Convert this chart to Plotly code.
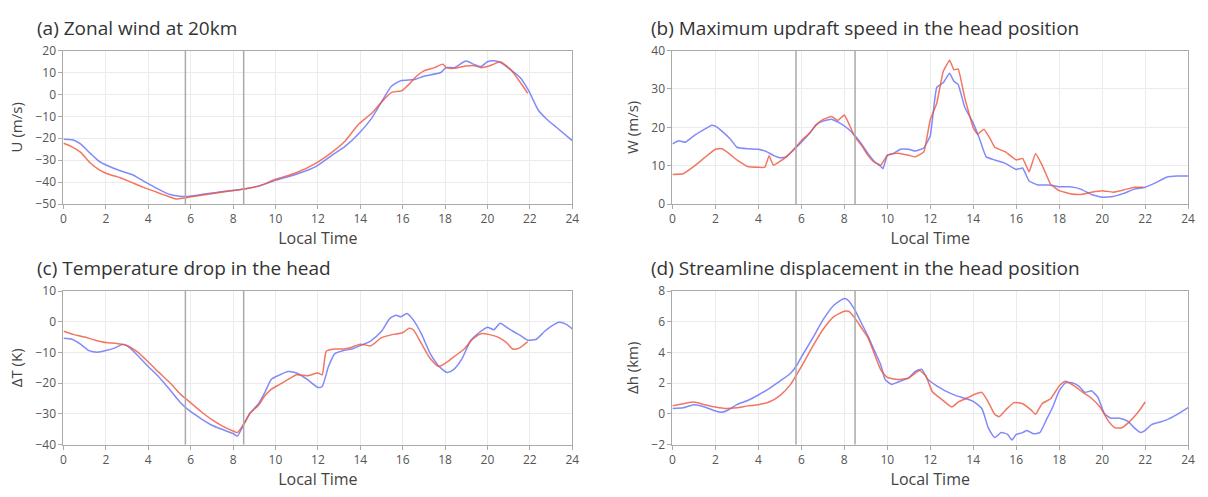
import plotly.graph_objects as go

# ---------------- data ----------------
a_blue_t = [0, 0.42, 0.8, 1.28, 1.67, 2.06, 2.68, 3.23, 3.78, 4.4, 5.02, 5.49, 5.96, 6.74, 7.52, 8.53, 9.24, 10.0, 10.95, 11.9, 12.67, 13.3, 13.9, 14.54, 15.0, 15.48, 15.94, 16.57, 17.0, 17.8, 18.05, 18.44, 18.98, 19.37, 19.7, 20.0, 20.3, 20.6, 21.1, 21.56, 21.95, 22.4, 22.8, 23.28, 24.0]
a_blue_v = [-20.4, -20.7, -22.6, -27.0, -30.4, -32.4, -34.8, -36.5, -39.5, -42.8, -45.6, -46.4, -46.4, -45.3, -44.3, -43.1, -41.7, -39.2, -36.5, -32.9, -27.7, -23.6, -18.2, -10.8, -3.5, 3.8, 6.3, 6.8, 8.3, 10.0, 12.2, 12.2, 15.2, 13.7, 12.7, 14.9, 15.3, 14.6, 11.2, 7.5, 1.6, -7.2, -11.3, -15.2, -21.1]
a_red_t = [0, 0.42, 0.8, 1.28, 1.67, 2.06, 2.68, 3.23, 3.78, 4.4, 5.02, 5.3, 5.49, 5.96, 6.74, 7.52, 8.53, 9.24, 10.0, 10.95, 11.9, 12.67, 13.3, 13.9, 14.54, 15.0, 15.48, 15.94, 16.3, 16.57, 17.0, 17.5, 17.9, 18.05, 18.44, 18.98, 19.37, 19.7, 20.0, 20.3, 20.6, 21.1, 21.56, 21.9]
a_red_v = [-22.3, -24.0, -26.3, -31.4, -34.3, -36.2, -38.0, -40.2, -42.4, -44.6, -46.8, -47.7, -47.5, -46.8, -45.6, -44.5, -43.1, -41.7, -38.7, -35.8, -31.4, -26.3, -21.1, -13.8, -8.6, -3.5, 0.9, 1.6, 4.6, 7.5, 10.7, 12.2, 13.8, 12.2, 11.9, 12.9, 13.1, 12.2, 12.7, 13.8, 14.9, 11.2, 5.3, 0.5]

b_blue_t = [0, 0.3, 0.6, 1.0, 1.5, 1.8, 2.0, 2.3, 2.7, 3.0, 3.5, 4.0, 4.4, 4.7, 5.0, 5.3, 5.7, 6.0, 6.4, 6.7, 7.0, 7.4, 7.8, 8.2, 8.5, 8.8, 9.1, 9.4, 9.7, 9.8, 10.0, 10.3, 10.6, 11.0, 11.3, 11.7, 12.0, 12.3, 12.6, 12.9, 13.1, 13.3, 13.6, 14.0, 14.3, 14.6, 15.0, 15.5, 16.0, 16.3, 16.6, 17.0, 17.5, 18.0, 18.5, 19.0, 19.5, 20.0, 20.5, 21.0, 21.5, 22.0, 22.5, 23.0, 23.5, 24.0]
b_blue_v = [15.7, 16.5, 16.1, 17.8, 19.5, 20.5, 20.3, 19.0, 16.9, 14.8, 14.4, 14.3, 13.6, 12.7, 12.1, 12.3, 14.4, 16.1, 18.6, 20.7, 21.6, 22.1, 21.1, 19.5, 17.8, 15.7, 13.2, 11.1, 9.8, 9.2, 12.7, 13.2, 14.3, 14.3, 13.8, 14.6, 17.8, 30.4, 31.6, 34.1, 32.0, 31.2, 25.3, 21.1, 16.9, 12.3, 11.5, 10.6, 9.0, 9.4, 6.0, 5.0, 5.0, 4.5, 4.5, 3.9, 2.5, 1.8, 2.0, 2.8, 3.9, 4.4, 5.6, 7.0, 7.3, 7.3]
b_red_t = [0, 0.5, 1.0, 1.5, 2.0, 2.3, 2.7, 3.0, 3.5, 4.0, 4.3, 4.5, 4.7, 5.0, 5.3, 5.7, 6.0, 6.4, 6.7, 7.0, 7.4, 7.7, 8.0, 8.2, 8.5, 8.8, 9.1, 9.4, 9.7, 10.0, 10.3, 10.6, 11.0, 11.3, 11.7, 12.0, 12.3, 12.6, 12.9, 13.1, 13.3, 13.6, 14.0, 14.2, 14.5, 14.8, 15.0, 15.5, 16.0, 16.3, 16.6, 16.9, 17.2, 17.6, 18.0, 18.5, 19.0, 19.5, 20.0, 20.5, 21.0, 21.5, 21.9]
b_red_v = [7.7, 7.9, 9.8, 12.1, 14.3, 14.4, 12.9, 11.5, 9.8, 9.6, 9.6, 12.6, 10.1, 11.1, 12.3, 14.6, 16.5, 18.6, 20.7, 22.0, 22.8, 21.8, 23.2, 21.1, 17.4, 15.3, 12.7, 10.9, 10.2, 12.7, 13.2, 13.2, 12.7, 12.3, 13.6, 22.0, 26.2, 34.5, 37.5, 35.0, 35.2, 27.8, 19.9, 18.2, 19.5, 16.9, 14.8, 13.6, 11.5, 11.9, 8.4, 13.2, 10.2, 5.2, 3.5, 2.7, 2.5, 3.1, 3.5, 3.1, 3.7, 4.4, 4.4]

c_blue_t = [0, 0.4, 0.8, 1.2, 1.6, 2.0, 2.4, 2.8, 3.0, 3.5, 4.0, 4.5, 5.0, 5.5, 6.0, 6.5, 7.0, 7.5, 8.0, 8.2, 8.5, 8.8, 9.2, 9.5, 9.8, 10.2, 10.6, 11.0, 11.5, 12.0, 12.2, 12.5, 12.8, 13.2, 13.6, 14.0, 14.5, 15.0, 15.4, 15.7, 15.9, 16.2, 16.5, 16.9, 17.3, 17.7, 18.1, 18.4, 18.8, 19.2, 19.6, 20.0, 20.3, 20.6, 20.9, 21.2, 21.6, 21.9, 22.3, 22.7, 23.0, 23.4, 23.7, 24.0]
c_blue_v = [-5.4, -5.7, -7.3, -9.4, -9.9, -9.4, -8.6, -7.3, -7.8, -11.0, -14.6, -18.0, -22.0, -26.2, -29.3, -31.6, -33.7, -35.1, -36.4, -37.2, -33.5, -29.8, -26.7, -23.0, -18.8, -17.3, -16.2, -16.7, -18.8, -21.4, -21.1, -14.6, -10.4, -9.4, -8.9, -7.8, -6.2, -3.1, 1.1, 2.1, 1.6, 2.7, 0.6, -4.2, -10.4, -14.4, -16.5, -15.6, -12.0, -6.2, -3.6, -1.8, -2.6, -0.5, -1.8, -3.1, -4.7, -6.0, -5.7, -3.1, -1.5, -0.2, -0.8, -2.3]
c_red_t = [0, 0.5, 1.0, 1.5, 2.0, 2.5, 3.0, 3.5, 4.0, 4.5, 5.0, 5.5, 6.0, 6.5, 7.0, 7.5, 8.0, 8.2, 8.5, 8.8, 9.2, 9.5, 9.8, 10.2, 10.6, 11.0, 11.5, 12.0, 12.2, 12.4, 12.8, 13.2, 13.6, 14.0, 14.5, 15.0, 15.5, 16.0, 16.3, 16.5, 16.9, 17.3, 17.7, 18.1, 18.5, 18.9, 19.3, 19.7, 20.1, 20.5, 20.9, 21.2, 21.5, 21.9]
c_red_v = [-3.1, -4.2, -5.0, -6.0, -6.8, -7.1, -7.8, -9.9, -13.1, -16.5, -19.7, -23.5, -26.4, -29.3, -31.9, -34.0, -35.6, -36.1, -33.3, -29.8, -27.2, -24.1, -22.0, -20.4, -18.8, -17.3, -17.6, -16.7, -17.3, -9.6, -8.9, -8.9, -8.3, -7.3, -7.8, -5.2, -4.2, -3.6, -2.1, -2.6, -7.3, -12.0, -14.6, -13.1, -11.0, -8.9, -5.7, -3.9, -4.2, -5.0, -6.8, -8.9, -8.6, -6.5]

d_blue_t = [0, 0.5, 1.0, 1.5, 2.0, 2.3, 2.6, 3.0, 3.5, 4.0, 4.5, 5.0, 5.5, 5.8, 6.0, 6.5, 7.0, 7.5, 8.0, 8.2, 8.5, 8.8, 9.1, 9.4, 9.7, 9.9, 10.2, 10.5, 11.0, 11.3, 11.6, 11.9, 12.3, 12.7, 13.2, 13.6, 14.0, 14.4, 14.7, 15.0, 15.3, 15.6, 15.8, 16.0, 16.3, 16.5, 16.8, 17.1, 17.4, 17.7, 18.0, 18.3, 18.6, 18.9, 19.2, 19.5, 19.8, 20.1, 20.4, 20.8, 21.2, 21.5, 21.8, 22.0, 22.3, 22.7, 23.0, 23.5, 24.0]
d_blue_v = [0.35, 0.4, 0.6, 0.45, 0.18, 0.1, 0.25, 0.6, 0.87, 1.23, 1.65, 2.13, 2.65, 3.18, 3.7, 4.86, 6.1, 7.06, 7.52, 7.37, 6.74, 5.9, 5.06, 4.12, 3.18, 2.23, 1.92, 2.07, 2.34, 2.76, 2.9, 2.23, 1.82, 1.5, 1.19, 1.02, 0.81, 0.35, -0.91, -1.54, -1.22, -1.33, -1.7, -1.33, -1.22, -1.08, -1.29, -1.22, -0.39, 0.45, 1.5, 2.03, 2.03, 1.82, 1.4, 1.5, 1.08, 0.03, -0.28, -0.28, -0.49, -0.91, -1.22, -1.08, -0.7, -0.53, -0.39, -0.03, 0.4]
d_red_t = [0, 0.5, 1.0, 1.5, 2.0, 2.5, 3.0, 3.5, 4.0, 4.5, 5.0, 5.5, 6.0, 6.5, 7.0, 7.5, 8.0, 8.2, 8.5, 8.8, 9.1, 9.4, 9.7, 10.0, 10.5, 11.0, 11.5, 11.8, 12.1, 12.5, 13.0, 13.3, 13.7, 14.1, 14.4, 14.7, 15.0, 15.2, 15.5, 15.9, 16.3, 16.7, 16.9, 17.2, 17.6, 18.0, 18.3, 18.7, 19.1, 19.5, 19.9, 20.3, 20.6, 20.9, 21.2, 21.5, 21.8, 22.0]
d_red_v = [0.52, 0.66, 0.77, 0.6, 0.45, 0.35, 0.4, 0.52, 0.6, 0.77, 1.19, 1.92, 3.07, 4.33, 5.48, 6.32, 6.68, 6.68, 6.22, 5.59, 4.96, 3.91, 2.86, 2.38, 2.23, 2.34, 2.82, 2.44, 1.44, 0.98, 0.45, 0.77, 1.02, 1.29, 1.4, 0.77, -0.03, -0.18, 0.24, 0.73, 0.66, 0.24, -0.03, 0.66, 0.98, 1.82, 2.13, 1.82, 1.4, 1.02, 0.45, -0.49, -0.91, -0.91, -0.6, -0.18, 0.35, 0.77]

event_times = [5.75, 8.5]
x_ticks = list(range(0, 25, 2))

titles = ["(a) Zonal wind at 20km", "(b) Maximum updraft speed in the head position",
          "(c) Temperature drop in the head", "(d) Streamline displacement in the head position"]
y_titles = ["U (m/s)", "W (m/s)", "ΔT (K)", "Δh (km)"]
y_ranges = [[-50, 20], [0, 40], [-40, 10], [-2, 8]]
y_dticks = [10, 10, 10, 2]
x_title = "Local Time"

# ---------------- figure ----------------
W, H = 1208, 497
BLUE = "#636efa"
RED = "#EF553B"
FONT = "Open Sans"

panels = [
    (a_blue_t, a_blue_v, a_red_t, a_red_v),
    (b_blue_t, b_blue_v, b_red_t, b_red_v),
    (c_blue_t, c_blue_v, c_red_t, c_red_v),
    (d_blue_t, d_blue_v, d_red_t, d_red_v),
]
smooth = [0.6, 0.3, 0.6, 0.5]

# pixel boxes (left, right, top, bottom)
boxes = [(61, 574, 43, 202), (675, 1195, 43, 202), (61, 574, 292, 451), (675, 1195, 292, 451)]
title_pos = [(32, 20), (651, 20), (32, 268), (651, 268)]

fig = go.Figure()
layout = dict(
    width=W, height=H, margin=dict(l=0, r=0, t=0, b=0),
    paper_bgcolor="white", plot_bgcolor="white", showlegend=False,
    font=dict(family=FONT, size=12, color="#444"),
    shapes=[], annotations=[],
)

for i, (bt, bv, rt, rv) in enumerate(panels):
    n = "" if i == 0 else str(i + 1)
    xa, ya = "x" + n, "y" + n
    fig.add_trace(go.Scatter(x=bt, y=bv, mode="lines", xaxis=xa, yaxis=ya,
                             line=dict(color=BLUE, width=1.5, shape="spline", smoothing=smooth[i]),
                             opacity=0.8))
    fig.add_trace(go.Scatter(x=rt, y=rv, mode="lines", xaxis=xa, yaxis=ya,
                             line=dict(color=RED, width=1.5, shape="spline", smoothing=smooth[i]),
                             opacity=0.8))
    l, r, t, b = boxes[i]
    axis_common = dict(showline=True, linecolor="#aaa", linewidth=1, mirror=True,
                       showgrid=True, gridcolor="#ebebeb", gridwidth=1,
                       ticks="outside", ticklen=4, tickcolor="#aaa",
                       tickfont=dict(size=12, color="#555"), zeroline=False)
    layout["xaxis" + n] = dict(domain=[l / W, r / W], anchor=ya, range=[0, 24],
                               tickvals=x_ticks,
                               title=dict(text=x_title, font=dict(size=16, color="#444"), standoff=4),
                               **axis_common)
    layout["yaxis" + n] = dict(domain=[1 - b / H, 1 - t / H], anchor=xa, range=y_ranges[i],
                               dtick=y_dticks[i],
                               title=dict(text=y_titles[i], font=dict(size=15, color="#444"), standoff=9),
                               **axis_common)
    for et in event_times:
        layout["shapes"].append(dict(type="line", xref=xa, yref=ya + " domain",
                                     x0=et, x1=et, y0=0, y1=1,
                                     line=dict(color="#aaa", width=1.5)))
    tx, ty = title_pos[i]
    layout["annotations"].append(dict(text=titles[i], xref="paper", yref="paper",
                                      x=tx / W, y=1 - ty / H, xanchor="left", yanchor="middle",
                                      showarrow=False, font=dict(size=19, color="#333")))

fig.update_layout(**layout)
fig.write_html("out.html")
